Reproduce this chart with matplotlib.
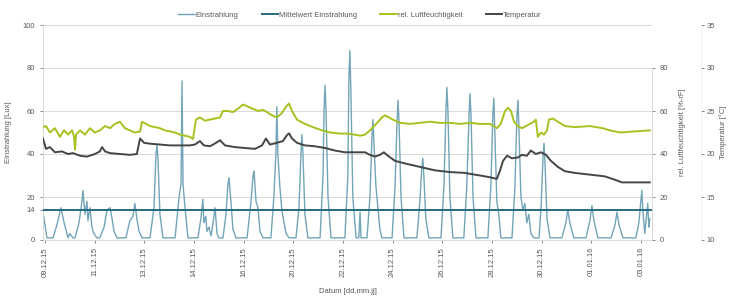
import matplotlib.pyplot as plt

plt.rcParams['font.family'] = ['Liberation Sans', 'DejaVu Sans']

# x positions are in "tick units": tick i sits at 2*i
tick_labels = ["09.12.15", "11.12.15", "13.12.15", "14.12.15", "16.12.15", "20.12.15",
               "22.12.15", "24.12.15", "26.12.15", "28.12.15", "30.12.15", "01.01.16", "03.01.16"]

# Einstrahlung [Lux]
ein_x = [-0.08, 0.08, 0.32, 0.48, 0.64, 0.77, 0.93, 1.0, 1.13,
         1.21, 1.37, 1.49, 1.53, 1.61, 1.69, 1.73, 1.81, 1.89, 1.97, 2.09,
         2.21, 2.38, 2.5, 2.62, 2.7, 2.78, 2.9,
         3.26, 3.42, 3.54, 3.62, 3.7, 3.79, 3.91,
         4.23, 4.39, 4.47, 4.51, 4.55, 4.63, 4.75,
         5.24, 5.4, 5.48, 5.52, 5.56, 5.64, 5.76,
         6.16, 6.28, 6.36, 6.4, 6.48, 6.52, 6.6, 6.69, 6.77, 6.85, 6.93, 7.0,
         7.17, 7.29, 7.37, 7.41, 7.49, 7.57, 7.69,
         8.14, 8.3, 8.38, 8.42, 8.5, 8.58, 8.66, 8.78,
         9.1, 9.22, 9.3, 9.34, 9.38, 9.46, 9.54, 9.63, 9.71, 9.83,
         10.11, 10.23, 10.31, 10.35, 10.39, 10.47, 10.59,
         11.08, 11.2, 11.24, 11.28, 11.32, 11.4, 11.52,
         12.08, 12.2, 12.24, 12.28, 12.32, 12.4, 12.53, 12.64, 12.69, 12.73,
         12.97, 13.09, 13.17, 13.21, 13.25, 13.33, 13.41, 13.49, 13.57,
         13.98, 14.1, 14.18, 14.22, 14.26, 14.34, 14.46,
         14.98, 15.1, 15.18, 15.22, 15.26, 15.34, 15.46,
         15.95, 16.07, 16.15, 16.19, 16.23, 16.31, 16.43,
         16.87, 16.99, 17.08, 17.12, 17.16, 17.24, 17.36,
         17.84, 17.96, 18.04, 18.08, 18.12, 18.2, 18.28, 18.36,
         18.81, 18.93, 19.01, 19.05, 19.09, 19.17, 19.25, 19.33, 19.41, 19.49, 19.57, 19.69,
         19.9, 19.98, 20.06, 20.1, 20.14, 20.22, 20.34,
         20.82, 20.98, 21.06, 21.14, 21.3,
         21.79, 21.95, 22.03, 22.11, 22.27,
         22.8, 22.96, 23.04, 23.12, 23.28,
         23.8, 23.92, 24.0, 24.04, 24.08, 24.16, 24.2, 24.28, 24.32, 24.36]
ein_y = [13, 1, 1, 7, 15, 8, 1, 3, 1,
         1, 8, 18, 23, 12, 18, 9, 15, 6, 3, 1,
         1, 6, 14, 15, 10, 4, 1,
         1, 9, 11, 17, 10, 4, 1,
         1, 15, 40, 44, 38, 12, 1,
         1, 20, 26, 74, 26, 15, 1,
         1, 10, 19, 8, 11, 4, 6, 2, 8, 15, 3, 1,
         1, 12, 26, 29, 18, 5, 1,
         1, 18, 30, 32, 18, 15, 4, 1,
         1, 20, 40, 62, 40, 25, 14, 8, 3, 1,
         1, 15, 40, 49, 40, 12, 1,
         1, 30, 60, 72, 60, 20, 1,
         1, 30, 75, 88, 70, 20, 1, 1, 13, 1,
         1, 20, 48, 56, 45, 25, 15, 5, 1,
         1, 25, 55, 65, 55, 20, 1,
         1, 18, 34, 38, 30, 10, 1,
         1, 25, 60, 71, 60, 20, 1,
         1, 25, 58, 68, 58, 20, 1,
         1, 25, 58, 66, 50, 18, 12, 1,
         1, 25, 58, 65, 52, 20, 14, 17, 8, 12, 3, 1,
         1, 15, 38, 45, 36, 10, 1,
         1, 8, 14, 8, 1,
         1, 9, 16, 9, 1,
         1, 7, 13, 7, 1,
         1, 8, 18, 23, 14, 3, 8, 17, 6, 10]

mittel = 14

# rel. Luftfeuchtigkeit [%-rF]
rh_x = [-0.08, 0.04, 0.2, 0.4, 0.6, 0.77, 0.93, 1.09, 1.17, 1.21, 1.25, 1.41, 1.61, 1.81,
        2.01, 2.21, 2.42, 2.62, 2.82, 3.02, 3.22, 3.42, 3.62, 3.83, 3.91, 4.07, 4.23, 4.43,
        4.63, 4.83, 5.03, 5.24, 5.44, 5.64, 5.84, 5.96, 6.08, 6.24, 6.44, 6.65, 6.85, 7.05,
        7.17, 7.37, 7.57, 7.77, 7.97, 8.18, 8.38, 8.58, 8.78, 8.94, 9.14, 9.34, 9.54, 9.71,
        9.83, 9.95, 10.15, 10.47, 10.79, 11.16, 11.48, 11.88, 12.16, 12.48, 12.69, 12.89,
        13.09, 13.38, 13.57, 13.69, 13.85, 14.01, 14.3, 14.7, 15.1, 15.5, 15.91, 16.31,
        16.71, 17.12, 17.52, 17.92, 18.2, 18.36, 18.53, 18.65, 18.77, 18.89, 19.05, 19.21,
        19.37, 19.53, 19.69, 19.77, 19.85, 19.98, 20.1, 20.22, 20.3, 20.46, 20.66, 20.94,
        21.34, 21.95, 22.47, 22.75, 23.16, 23.76, 24.36]
rh_y = [52.5, 53, 50, 52, 48, 51, 49, 51, 48, 42, 49, 51, 49, 52,
        50, 51, 53, 52, 54, 55, 52, 51, 50, 50.5, 55, 54, 53, 52.5,
        52, 51, 50.5, 50, 49, 48.5, 48, 47, 56, 57, 55.5, 56, 56.5, 57,
        60, 60, 59.5, 61, 63, 62, 61, 60, 60.5, 59.5, 58, 57, 59, 62,
        63.5, 60, 56, 54, 52.5, 51, 50, 49.5, 49.5, 49, 48.5, 49,
        51, 54.5, 57, 58, 57, 56, 54.5, 54, 54.5, 55, 54.5, 54.5,
        54, 54.5, 54, 54, 52, 54, 60, 61.5, 60, 55, 53, 52,
        53, 54, 55, 56, 48, 50, 49, 51, 56, 56.5, 55, 53,
        52.5, 53, 52, 51, 50, 50.5, 51]

# Temperatur [°C]
t_x = [-0.08, 0.04, 0.2, 0.4, 0.68, 0.93, 1.13, 1.41, 1.69, 2.01, 2.21, 2.3, 2.42, 2.62,
       3.02, 3.42, 3.7, 3.83, 3.99, 4.23, 4.63, 5.03, 5.44, 5.84, 6.04, 6.24, 6.4, 6.65,
       6.89, 7.05, 7.25, 7.65, 8.05, 8.46, 8.74, 8.9, 9.06, 9.34, 9.58, 9.75, 9.83, 9.95,
       10.15, 10.47, 10.87, 11.28, 11.68, 12.08, 12.48, 12.89, 13.09, 13.29, 13.49, 13.65,
       13.81, 14.1, 14.5, 15.1, 15.7, 16.31, 16.91, 17.52, 17.92, 18.2, 18.32, 18.45, 18.61,
       18.81, 19.05, 19.21, 19.41, 19.57, 19.77, 19.98, 20.18, 20.38, 20.66, 20.94, 21.34,
       21.95, 22.55, 22.96, 23.24, 23.76, 24.36]
t_y = [21.8, 20.6, 20.8, 20.2, 20.3, 20.0, 20.1, 19.8, 19.7, 20.0, 20.3, 20.8, 20.3, 20.1,
       20.0, 19.9, 20.0, 21.8, 21.3, 21.2, 21.1, 21.0, 21.0, 21.0, 21.1, 21.5, 21.0, 20.9,
       21.3, 21.6, 21.0, 20.8, 20.7, 20.6, 21.0, 21.8, 21.1, 21.3, 21.5, 22.2, 22.4, 21.8,
       21.3, 21.0, 20.9, 20.7, 20.4, 20.2, 20.2, 20.2, 19.9, 19.7, 19.9, 20.2,
       19.8, 19.2, 18.9, 18.5, 18.1, 17.9, 17.8, 17.5, 17.3, 17.1, 18.0, 19.2, 19.8,
       19.5, 19.6, 19.9, 19.8, 20.4, 20.0, 20.2, 19.9, 19.2, 18.5, 18.0, 17.8,
       17.6, 17.4, 17.0, 16.7, 16.7, 16.7]

c_ein = '#72a5b8'
c_mit = '#266a84'
c_rh = '#a5c320'
c_t = '#454545'
c_txt = '#595959'
grid_c = '#d9d9d9'
fs = 5.5

fig = plt.figure(figsize=(7.32, 2.98), dpi=100)
ax = fig.add_axes([43 / 732, 1 - 240 / 298, 609 / 732, 215 / 298])
x0, x1 = -0.08, 24.45

l1, = ax.plot(ein_x, ein_y, color=c_ein, lw=1.0, label='Einstrahlung', zorder=2)
l2 = ax.axhline(mittel, color=c_mit, lw=1.4, label='Mittelwert Einstrahlung', zorder=3)
ax.set_xlim(x0, x1)
ax.set_ylim(0, 100)
ax.set_yticks([0, 14, 20, 40, 60, 80, 100])
ax.set_yticklabels(['0', '14', '20', '40', '60', '80', '100'])
ax.get_yticklabels()[1].set_color(c_mit)
for y in [20, 40, 60, 80, 100]:
    ax.axhline(y, color=grid_c, lw=0.7, zorder=0)
ax.set_xticks([2 * i for i in range(len(tick_labels))])
ax.set_xticklabels(tick_labels, rotation=90)
ax.tick_params(axis='both', labelsize=fs, colors=c_txt, length=2, width=0.5)
ax.tick_params(axis='x', pad=3)
for s in ['top', 'right']:
    ax.spines[s].set_visible(False)
for s in ['left', 'bottom']:
    ax.spines[s].set_color(grid_c)
    ax.spines[s].set_linewidth(0.7)
ax.set_ylabel('Einstrahlung [Lux]', fontsize=fs, color=c_txt, labelpad=8)
ax.set_xlabel('Datum [dd.mm.jj]', fontsize=fs, color=c_txt, labelpad=8)

# humidity axis
ax2 = ax.twinx()
l3, = ax2.plot(rh_x, rh_y, color=c_rh, lw=1.4, label='rel. Luftfeuchtigkeit', zorder=4)
ax2.set_ylim(0, 100)
ax2.set_yticks([0, 20, 40, 60, 80])
ax2.set_xlim(x0, x1)
ax2.spines['right'].set_bounds(0, 80)
ax2.spines['right'].set_color(grid_c)
ax2.spines['right'].set_linewidth(0.7)
for s in ['top', 'left', 'bottom']:
    ax2.spines[s].set_visible(False)
ax2.tick_params(axis='y', labelsize=fs, colors=c_txt, length=2, width=0.5)
ax2.set_ylabel('rel. Luftfeuchtigkeit [%-rF]', fontsize=fs, color=c_txt, labelpad=8)

# temperature axis
ax3 = ax.twinx()
l4, = ax3.plot(t_x, t_y, color=c_t, lw=1.4, label='Temperatur', zorder=5)
ax3.set_ylim(10, 35)
ax3.set_yticks([10, 15, 20, 25, 30, 35])
ax3.set_xlim(x0, x1)
ax3.spines['right'].set_position(('axes', 658 / 609))
ax3.spines['right'].set_color('#eeeeee')
ax3.spines['right'].set_linewidth(0.5)
for s in ['top', 'left', 'bottom']:
    ax3.spines[s].set_visible(False)
ax3.tick_params(axis='y', labelsize=fs, colors=c_txt, length=2, width=0.5, pad=2)
ax3.set_ylabel('Temperatur [°C]', fontsize=fs, color=c_txt, labelpad=3)

ax.legend(handles=[l1, l2, l3, l4], loc='center', bbox_to_anchor=((360 - 43) / 609, 1.045),
          ncol=4, frameon=False, fontsize=fs, handlelength=2.2, handletextpad=0.1,
          columnspacing=3.0, labelcolor=c_txt)

fig.savefig('out.png', dpi=100)
